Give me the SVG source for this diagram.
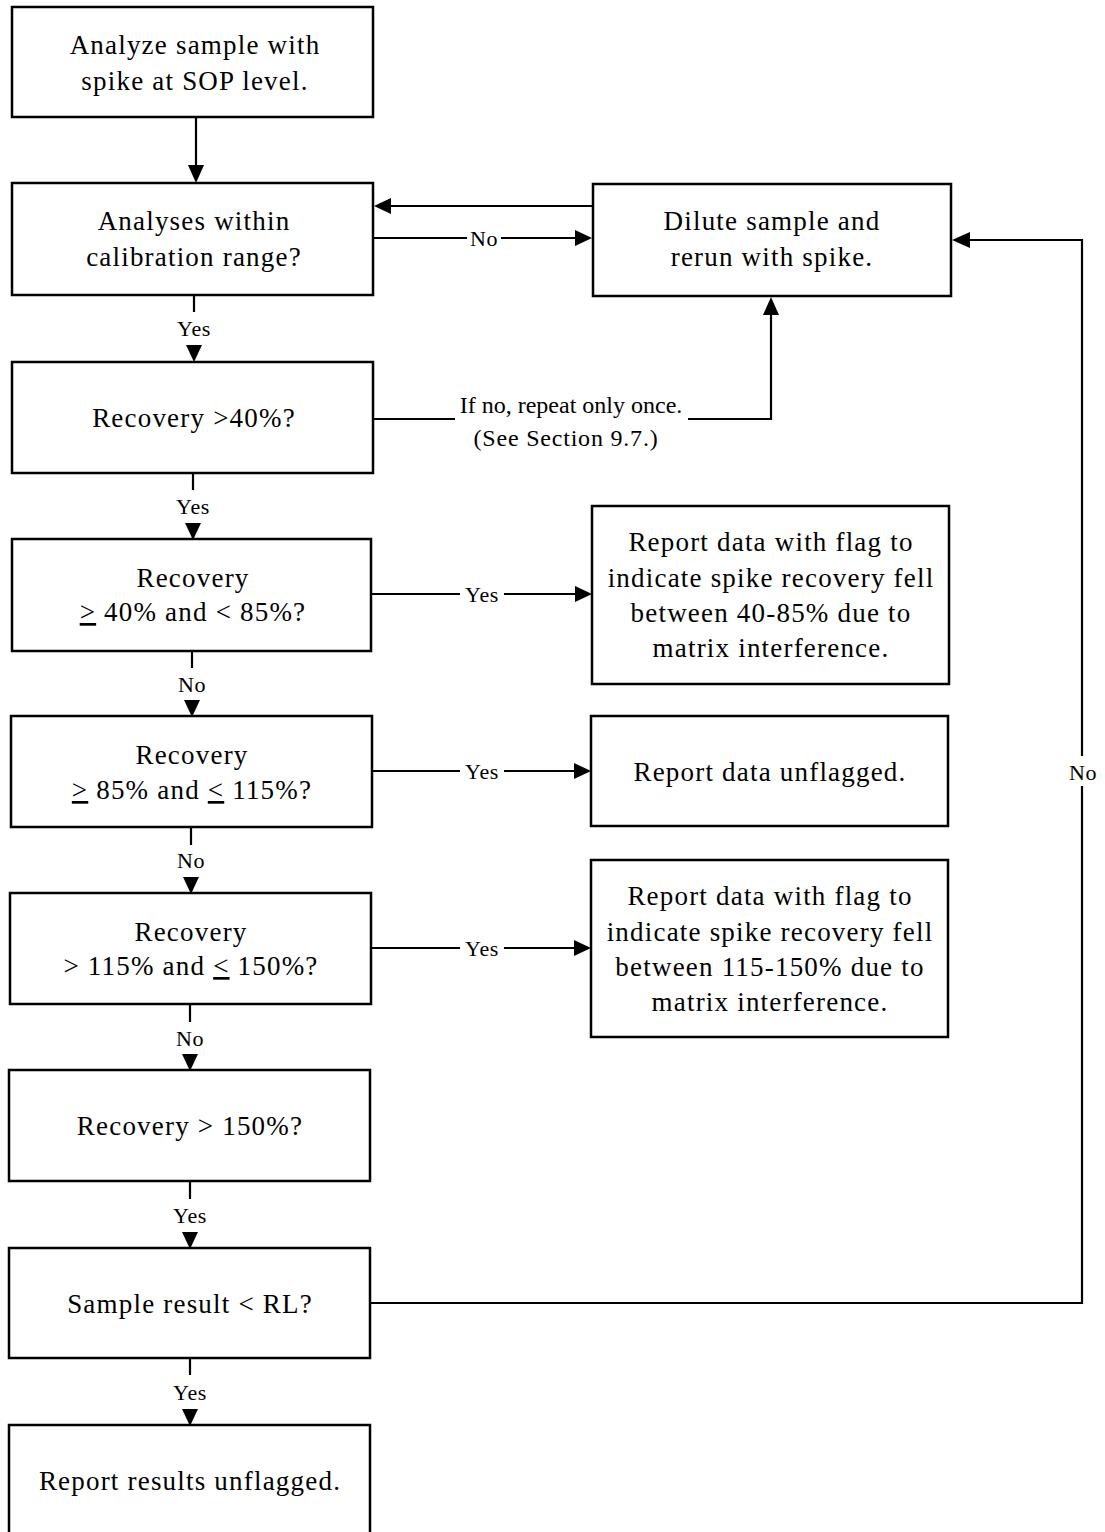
<svg xmlns="http://www.w3.org/2000/svg" width="1105" height="1532" viewBox="0 0 1105 1532">
  <defs>
    <style>
      .box { fill: #fff; stroke: #000; stroke-width: 2.5; }
      .txt { font-family: "Liberation Serif", "Times New Roman", serif; font-size: 27px; letter-spacing: 1.2px; fill: #000; text-anchor: middle; }
      .lbl { font-family: "Liberation Serif", "Times New Roman", serif; font-size: 22px; letter-spacing: 0.6px; fill: #000; text-anchor: middle; }
      .note { font-family: "Liberation Serif", "Times New Roman", serif; font-size: 24px; fill: #000; text-anchor: middle; }
      .note2 { font-family: "Liberation Serif", "Times New Roman", serif; font-size: 24px; letter-spacing: 0.8px; fill: #000; text-anchor: middle; }
      .conn { fill: none; stroke: #000; stroke-width: 2.2; }
      .head { fill: #000; }
    </style>
  </defs>
  <rect width="1105" height="1532" fill="#fff"/>

  <!-- process steps -->
  <g id="n-analyze">
    <rect class="box" x="12" y="7" width="361" height="110"/>
    <text class="txt" x="195" y="54">Analyze sample with</text>
    <text class="txt" x="195" y="90">spike at SOP level.</text>
  </g>
  <g id="n-range">
    <rect class="box" x="12" y="183" width="361" height="112"/>
    <text class="txt" x="194" y="230">Analyses within</text>
    <text class="txt" x="194" y="266">calibration range?</text>
  </g>
  <g id="n-dilute">
    <rect class="box" x="593" y="184" width="358" height="112"/>
    <text class="txt" x="772" y="230">Dilute sample and</text>
    <text class="txt" x="772" y="266">rerun with spike.</text>
  </g>
  <g id="n-rec40">
    <rect class="box" x="12" y="362" width="361" height="111"/>
    <text class="txt" x="194" y="427">Recovery &gt;40%?</text>
  </g>
  <g id="n-rec40-85">
    <rect class="box" x="12" y="539" width="359" height="112"/>
    <text class="txt" x="193" y="587">Recovery</text>
    <text class="txt" x="193" y="621"><tspan text-decoration="underline">&gt;</tspan> 40% and &lt; 85%?</text>
  </g>
  <g id="n-flag40-85">
    <rect class="box" x="592" y="506" width="357" height="178"/>
    <text class="txt" x="771" y="551">Report data with flag to</text>
    <text class="txt" x="771" y="587">indicate spike recovery fell</text>
    <text class="txt" x="771" y="622">between 40-85% due to</text>
    <text class="txt" x="771" y="657">matrix interference.</text>
  </g>
  <g id="n-rec85-115">
    <rect class="box" x="11" y="716" width="361" height="111"/>
    <text class="txt" x="192" y="764">Recovery</text>
    <text class="txt" x="192" y="799"><tspan text-decoration="underline">&gt;</tspan> 85% and <tspan text-decoration="underline">&lt;</tspan> 115%?</text>
  </g>
  <g id="n-unflagged">
    <rect class="box" x="591" y="716" width="357" height="110"/>
    <text class="txt" x="770" y="781">Report data unflagged.</text>
  </g>
  <g id="n-rec115-150">
    <rect class="box" x="10" y="893" width="361" height="111"/>
    <text class="txt" x="191" y="941">Recovery</text>
    <text class="txt" x="191" y="975">&gt; 115% and <tspan text-decoration="underline">&lt;</tspan> 150%?</text>
  </g>
  <g id="n-flag115-150">
    <rect class="box" x="591" y="860" width="357" height="177"/>
    <text class="txt" x="770" y="905">Report data with flag to</text>
    <text class="txt" x="770" y="941">indicate spike recovery fell</text>
    <text class="txt" x="770" y="976">between 115-150% due to</text>
    <text class="txt" x="770" y="1011">matrix interference.</text>
  </g>
  <g id="n-rec150">
    <rect class="box" x="9" y="1070" width="361" height="111"/>
    <text class="txt" x="190" y="1135">Recovery &gt; 150%?</text>
  </g>
  <g id="n-rl">
    <rect class="box" x="9" y="1248" width="361" height="110"/>
    <text class="txt" x="190" y="1313">Sample result &lt; RL?</text>
  </g>
  <g id="n-report">
    <rect class="box" x="9" y="1425" width="361" height="110"/>
    <text class="txt" x="190" y="1490">Report results unflagged.</text>
  </g>

  <!-- connectors -->
  <g id="connectors">
    <!-- analyze -> range -->
    <line class="conn" x1="196" y1="117" x2="196" y2="170"/>
    <path class="head" d="M188,165 L204,165 L196,183 Z"/>

    <!-- dilute -> range -->
    <line class="conn" x1="593" y1="206" x2="388" y2="206"/>
    <path class="head" d="M391,198 L391,214 L374,206 Z"/>

    <!-- range -> dilute (No) -->
    <line class="conn" x1="373" y1="238" x2="467" y2="238"/>
    <line class="conn" x1="501" y1="238" x2="578" y2="238"/>
    <path class="head" d="M575,230 L575,246 L592,238 Z"/>
    <text class="lbl" x="484" y="246">No</text>

    <!-- range -> rec40 (Yes) -->
    <line class="conn" x1="194" y1="295" x2="194" y2="312"/>
    <text class="lbl" x="194" y="336">Yes</text>
    <path class="head" d="M186,345 L202,345 L194,362 Z"/>

    <!-- rec40 -> dilute (If no) -->
    <polyline class="conn" points="373,419 455,419"/>
    <polyline class="conn" points="688,419 771,419 771,312"/>
    <path class="head" d="M763,315 L779,315 L771,297 Z"/>
    <text class="note" x="571" y="413">If no, repeat only once.</text>
    <text class="note2" x="566" y="446">(See Section 9.7.)</text>

    <!-- rec40 -> rec40-85 (Yes) -->
    <line class="conn" x1="193" y1="473" x2="193" y2="490"/>
    <text class="lbl" x="193" y="514">Yes</text>
    <path class="head" d="M185,523 L201,523 L193,540 Z"/>

    <!-- rec40-85 -> flag (Yes) -->
    <line class="conn" x1="371" y1="594" x2="460" y2="594"/>
    <line class="conn" x1="504" y1="594" x2="578" y2="594"/>
    <path class="head" d="M575,586 L575,602 L592,594 Z"/>
    <text class="lbl" x="482" y="602">Yes</text>

    <!-- rec40-85 -> rec85-115 (No) -->
    <line class="conn" x1="192" y1="651" x2="192" y2="668"/>
    <text class="lbl" x="192" y="692">No</text>
    <path class="head" d="M184,700 L200,700 L192,717 Z"/>

    <!-- rec85-115 -> unflagged (Yes) -->
    <line class="conn" x1="372" y1="771" x2="460" y2="771"/>
    <line class="conn" x1="504" y1="771" x2="577" y2="771"/>
    <path class="head" d="M574,763 L574,779 L591,771 Z"/>
    <text class="lbl" x="482" y="779">Yes</text>

    <!-- rec85-115 -> rec115-150 (No) -->
    <line class="conn" x1="191" y1="827" x2="191" y2="845"/>
    <text class="lbl" x="191" y="868">No</text>
    <path class="head" d="M183,877 L199,877 L191,894 Z"/>

    <!-- rec115-150 -> flag (Yes) -->
    <line class="conn" x1="371" y1="948" x2="460" y2="948"/>
    <line class="conn" x1="504" y1="948" x2="577" y2="948"/>
    <path class="head" d="M574,940 L574,956 L591,948 Z"/>
    <text class="lbl" x="482" y="956">Yes</text>

    <!-- rec115-150 -> rec150 (No) -->
    <line class="conn" x1="190" y1="1004" x2="190" y2="1022"/>
    <text class="lbl" x="190" y="1046">No</text>
    <path class="head" d="M182,1054 L198,1054 L190,1071 Z"/>

    <!-- rec150 -> rl (Yes) -->
    <line class="conn" x1="190" y1="1181" x2="190" y2="1199"/>
    <text class="lbl" x="190" y="1223">Yes</text>
    <path class="head" d="M182,1232 L198,1232 L190,1249 Z"/>

    <!-- rl -> dilute (No) -->
    <polyline class="conn" points="370,1303 1082,1303 1082,786"/>
    <polyline class="conn" points="1082,756 1082,240 967,240"/>
    <path class="head" d="M970,232 L970,248 L952,240 Z"/>
    <text class="lbl" x="1083" y="780">No</text>

    <!-- rl -> report (Yes) -->
    <line class="conn" x1="190" y1="1358" x2="190" y2="1375"/>
    <text class="lbl" x="190" y="1400">Yes</text>
    <path class="head" d="M182,1409 L198,1409 L190,1426 Z"/>
  </g>
</svg>
